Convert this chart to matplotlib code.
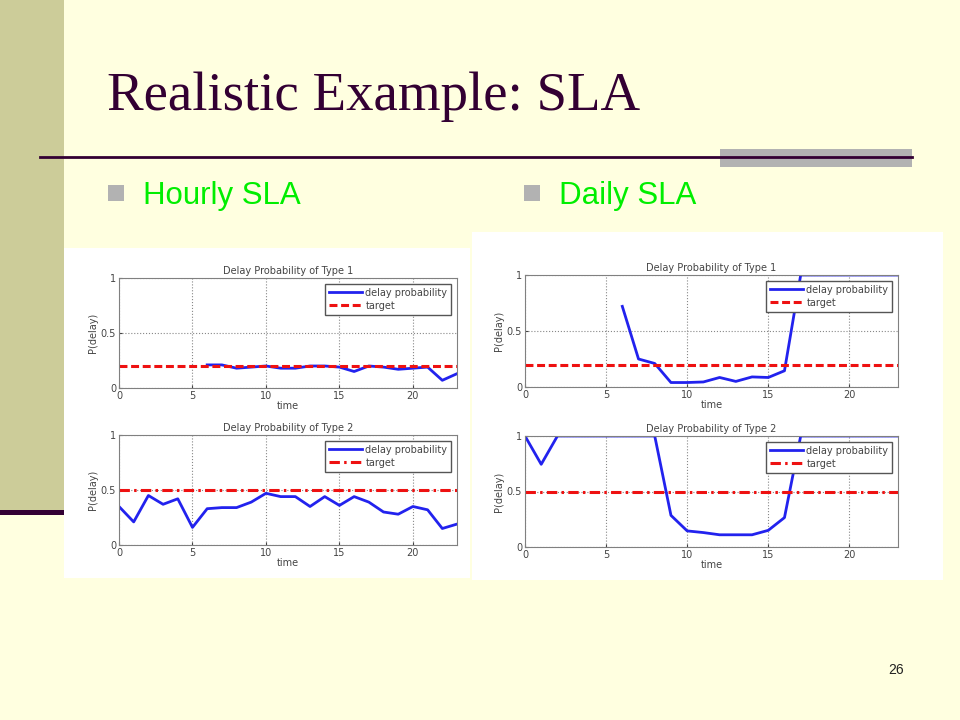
import numpy as np
import matplotlib.pyplot as plt
from matplotlib.patches import Rectangle

W, H = 960, 720
nan = np.nan

# hourly data (time 0..23)
hours = list(range(24))
hourlyType1 = [nan, nan, nan, nan, nan, nan, 0.21, 0.21, 0.18, 0.19, 0.20, 0.18,
               0.18, 0.20, 0.20, 0.19, 0.15, 0.20, 0.19, 0.17, 0.18, 0.19, 0.07, 0.13]
hourlyType2 = [0.35, 0.21, 0.45, 0.37, 0.42, 0.16, 0.33, 0.34, 0.34, 0.39, 0.47, 0.44,
               0.44, 0.35, 0.44, 0.36, 0.44, 0.39, 0.30, 0.28, 0.35, 0.32, 0.15, 0.19]
# daily data
dailyType1 = [nan, nan, nan, nan, nan, nan, 0.72, 0.25, 0.21, 0.04, 0.04, 0.045,
              0.085, 0.05, 0.09, 0.085, 0.145, 1.0, 1.0, 1.0, 1.0, 1.0, 1.0, 1.0]
dailyType2 = [1.0, 0.745, 1.0, 1.0, 1.0, 1.0, 1.0, 1.0, 1.0, 0.285, 0.145, 0.13,
              0.11, 0.11, 0.11, 0.15, 0.265, 1.0, 1.0, 1.0, 1.0, 1.0, 1.0, 1.0]
targets = [0.2, 0.5]

titleText = 'Realistic Example: SLA'
bullets = ['Hourly SLA', 'Daily SLA']

fig = plt.figure(figsize=(9.6, 7.2), dpi=100)
fig.patch.set_facecolor('#ffffe0')

# background / decoration layer in pixel coordinates
bg = fig.add_axes([0, 0, 1, 1])
bg.set_xlim(0, W)
bg.set_ylim(H, 0)
bg.axis('off')
bg.add_patch(Rectangle((0, 0), 64, 510, color='#cccc99', lw=0))
bg.add_patch(Rectangle((0, 510), 64, 5, color='#330033', lw=0))
bg.add_patch(Rectangle((720, 149), 192, 18, color='#b2b2b2', lw=0))
bg.plot([40, 912], [157, 157], color='#330033', lw=2)
bg.text(107, 110, titleText, fontsize=39.5, family='Liberation Serif', color='#330033', va='baseline')
for bx, label in zip([108, 524], bullets):
    bg.add_patch(Rectangle((bx, 185), 16, 16, color='#b2b2b2', lw=0))
    bg.text(bx + 35, 204, label, fontsize=22.5, family='Liberation Sans', color='#00ee00', va='baseline')
bg.add_patch(Rectangle((64, 248), 406, 330, color='white', lw=0))
bg.add_patch(Rectangle((472, 232), 471, 348, color='white', lw=0))
bg.text(896, 674, '26', fontsize=10, family='Liberation Sans', color='#222222', ha='center', va='baseline')

txtColor = '#444444'

def makePanel(box, y, target, title, targetDashes):
    l, t, r, b = box
    ax = fig.add_axes([l / W, 1 - b / H, (r - l) / W, (b - t) / H])
    ax.plot(hours, y, color='#2222ee', lw=2, label='delay probability')
    ax.axhline(target, color='#ee1111', lw=2.2, dashes=targetDashes, label='target')
    ax.set_xlim(0, 23)
    ax.set_ylim(0, 1)
    ax.set_xticks([0, 5, 10, 15, 20])
    ax.set_yticks([0, 0.5, 1])
    ax.set_yticklabels(['0', '0.5', '1'])
    ax.grid(True, ls=':', color='#888888', lw=0.8)
    for s in ax.spines.values():
        s.set_color('#808080')
    ax.tick_params(labelsize=7, colors=txtColor, length=2, direction='in', pad=2)
    ax.set_title(title, fontsize=7, color=txtColor, pad=3)
    ax.set_xlabel('time', fontsize=7, color=txtColor, labelpad=0)
    ax.set_ylabel('P(delay)', fontsize=7, color=txtColor, labelpad=2)
    leg = ax.legend(loc='upper right', fontsize=7, fancybox=False, framealpha=1,
                    handlelength=3.4, borderaxespad=0.6, labelspacing=0.3,
                    handletextpad=0.3, borderpad=0.4)
    leg.get_frame().set_edgecolor('#555555')
    for txt in leg.get_texts():
        txt.set_color(txtColor)
    return ax

dashed = (2.6, 1.2)
dashDot = (3.4, 1.4, 0.8, 1.4)
makePanel((119, 278, 457, 388), hourlyType1, targets[0], 'Delay Probability of Type 1', dashed)
makePanel((119, 435, 457, 545), hourlyType2, targets[1], 'Delay Probability of Type 2', dashDot)
makePanel((525, 275, 898, 387), dailyType1, targets[0], 'Delay Probability of Type 1', dashed)
makePanel((525, 436, 898, 547), dailyType2, targets[1], 'Delay Probability of Type 2', dashDot)

fig.savefig('out.png', dpi=100, facecolor=fig.get_facecolor())
